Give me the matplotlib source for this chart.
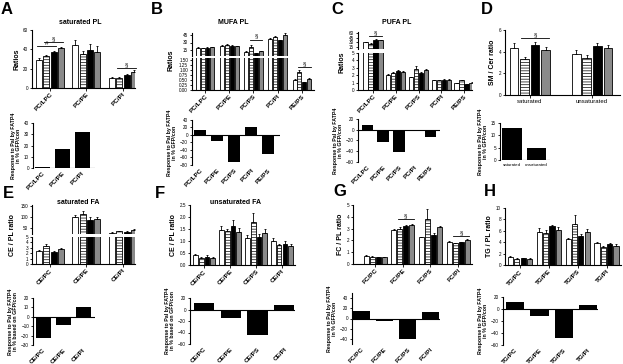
import numpy as np
import matplotlib
matplotlib.use("Agg")
import matplotlib.pyplot as plt

plt.rcParams["font.family"] = ["Liberation Sans", "DejaVu Sans"]
plt.rcParams["hatch.linewidth"] = 0.5

# ---- data ----
A_cats = ["PC/LPC", "PC/PE", "PC/PI"]
A_vals = [[29, 33, 37, 41], [45, 35, 39, 37], [10, 10, 13, 17]]
A_err = [[2.5, 1.5, 1.5, 1.5], [5, 3, 7, 6], [1, 1, 1, 1.5]]
A_resp = [0.5, 17, 32]

B_cats = ["PC/LPC", "PC/PE", "PC/PS", "PC/PI", "PE/PS"]
B_vals = [[19.5, 19, 20, 21], [23.5, 26, 24, 23.5], [11.5, 22, 8.5, 13],
          [38, 41, 35, 46], [0.5, 0.9, 0.38, 0.55]]
B_err = [[1, 1, 0.5, 1], [1, 1.5, 0.5, 0.5], [1, 3, 0.5, 1],
         [1.5, 1.5, 0.5, 2.5], [0.03, 0.1, 0.02, 0.05]]
B_resp = [12, -15, -72, 21, -52]

C_cats = ["PC/LPC", "PC/PE", "PC/PS", "PC/PI", "PE/PS"]
C_vals = [[31, 26, 39, 37], [2.0, 2.3, 2.6, 2.5], [1.7, 2.8, 2.3, 2.7],
          [1.3, 1.3, 1.4, 1.4], [0.9, 1.3, 0.8, 1.0]]
C_err = [[2, 2, 1.5, 1.5], [0.1, 0.1, 0.05, 0.05], [0.1, 0.5, 0.1, 0.1],
         [0.05, 0.05, 0.05, 0.05], [0.05, 0.1, 0.05, 0.05]]
C_resp = [9, -23, -42, -2, -13]

D_cats = ["saturated", "unsaturated"]
D_vals = [[4.3, 3.3, 4.6, 4.2], [3.8, 3.4, 4.5, 4.3]]
D_err = [[0.5, 0.2, 0.25, 0.25], [0.35, 0.3, 0.3, 0.35]]
D_resp = [13, 5]

E_cats = ["CE/PC", "CE/PE", "CE/PI"]
E_vals = [[2.4, 3.4, 2.2, 2.7], [100, 115, 85, 92], [25, 33, 30, 40]]
E_err = [[0.2, 0.25, 0.15, 0.2], [8, 12, 15, 8], [2, 3, 2, 3]]
E_resp = [-23, -9, 10]

F_cats = ["CE/PC", "CE/PE", "CE/PS", "CE/PI"]
F_vals = [[0.42, 0.3, 0.35, 0.3], [1.45, 1.42, 1.62, 1.38],
          [1.12, 1.78, 1.18, 1.32], [1.0, 0.82, 0.88, 0.8]]
F_err = [[0.04, 0.03, 0.05, 0.03], [0.18, 0.08, 0.25, 0.15],
         [0.12, 0.4, 0.12, 0.2], [0.12, 0.06, 0.1, 0.06]]
F_resp = [12, -15, -45, 8]

G_cats = ["FC/PC", "FC/PE", "FC/PS", "FC/PI"]
G_vals = [[0.7, 0.6, 0.6, 0.6], [2.85, 3.0, 3.25, 3.3],
          [2.25, 3.8, 2.45, 3.15], [1.9, 1.75, 1.85, 2.0]]
G_err = [[0.05, 0.05, 0.03, 0.03], [0.1, 0.1, 0.08, 0.08],
         [0.05, 0.85, 0.15, 0.1], [0.05, 0.05, 0.05, 0.08]]
G_resp = [15, -4, -40, 13]

H_cats = ["TG/PC", "TG/PE", "TG/PS", "TG/PI"]
H_vals = [[1.4, 1.1, 1.2, 1.1], [5.8, 5.6, 6.8, 6.1],
          [4.5, 7.2, 5.1, 5.8], [3.8, 3.2, 3.7, 3.4]]
H_err = [[0.1, 0.05, 0.05, 0.05], [0.7, 0.5, 0.2, 0.5],
         [0.2, 1.5, 0.3, 0.5], [0.3, 0.2, 0.15, 0.2]]
H_resp = [11, -11, -48, 7]

# significance marks: (category, first bar, last bar, height, symbol)
A_sig = [(0, 0, 2, 43, "#"), (0, 1, 3, 48, "§"), (2, 1, 3, 21, "§")]
B_sig = [(2, 1, 3, 36, "§"), (4, 1, 3, 1.17, "§")]
C_sig = [(0, 1, 3, 52, "§")]
D_sig = [(0, 1, 3, 5.3, "§")]
G_sig = [(1, 1, 3, 3.8, "§"), (3, 1, 3, 2.35, "§")]

FACE = ["white", "white", "black", "#8a8a8a"]
HATCH = [None, "------", None, None]

W, H = 623, 364
fig = plt.figure(figsize=(W / 100, H / 100), dpi=100)


def px_axes(l, t, r, b):
    return fig.add_axes([l / W, 1 - b / H, (r - l) / W, (b - t) / H])


def ftext(x, y, s, **kw):
    fig.text(x / W, 1 - y / H, s, **kw)


def style(ax):
    ax.spines["top"].set_visible(False)
    ax.spines["right"].set_visible(False)
    ax.spines["left"].set_linewidth(0.8)
    ax.spines["bottom"].set_linewidth(0.8)
    ax.tick_params(labelsize=3.3, width=0.6, length=1.8, pad=1)
    ax.set_facecolor("none")


def grouped(ax, vals, err, step):
    vals = np.array(vals, dtype=float)
    err = np.array(err, dtype=float)
    x = np.arange(len(vals))
    for j in range(4):
        xs = x + (j - 1.5) * step
        ax.bar(xs, vals[:, j], step * 0.82, color=FACE[j], edgecolor="black",
               linewidth=0.6, hatch=HATCH[j], zorder=2)
        ax.errorbar(xs, vals[:, j], yerr=[np.zeros(len(x)), err[:, j]], fmt="none",
                    ecolor="black", elinewidth=0.6, capsize=1.0, capthick=0.6, zorder=3)


def sig(ax, marks, step):
    for c, j0, j1, y, sym in marks:
        x0 = c + (j0 - 1.5) * step
        x1 = c + (j1 - 1.5) * step
        ax.plot([x0 - step * 0.3, x1 + step * 0.3], [y, y], color="black", lw=0.6,
                clip_on=False, zorder=4)
        ax.annotate(sym, (0.5 * (x0 + x1), y), xytext=(0, 0.5), textcoords="offset points",
                    ha="center", va="bottom", fontsize=4.5, annotation_clip=False)


def xcats(ax, cats, rot=True, size=4.6):
    ax.set_xticks(np.arange(len(cats)))
    if rot:
        ax.set_xticklabels(cats, rotation=45, ha="right", rotation_mode="anchor",
                           fontsize=size, fontweight="bold")
    else:
        ax.set_xticklabels(cats, fontsize=size)


def top_panel(rect, cats, vals, err, step, xlim, ylim, yticks, ylabel, marks=None,
              rot=True, ylabelpad=2):
    ax = px_axes(*rect)
    style(ax)
    grouped(ax, vals, err, step)
    ax.set_xlim(*xlim)
    ax.set_ylim(*ylim)
    ax.set_yticks(yticks)
    xcats(ax, cats, rot, 4.6 if rot else 4.3)
    ax.set_ylabel(ylabel, fontsize=5, fontweight="bold", labelpad=ylabelpad)
    if marks:
        sig(ax, marks, step)
    return ax


def broken_panel(up_rect, lo_rect, cats, vals, err, step, xlim, up_lim, up_ticks,
                 lo_lim, lo_ticks, lo_fmt, ylabel, ylabel_xy, up_marks=None, lo_marks=None):
    up = px_axes(*up_rect)
    lo = px_axes(*lo_rect)
    for ax in (up, lo):
        style(ax)
        grouped(ax, vals, err, step)
        ax.set_xlim(*xlim)
    up.set_ylim(*up_lim)
    up.set_yticks(up_ticks)
    up.spines["bottom"].set_visible(False)
    up.set_xticks([])
    lo.set_ylim(*lo_lim)
    lo.set_yticks(lo_ticks)
    lo.set_yticklabels([lo_fmt.format(t) for t in lo_ticks])
    xcats(lo, cats)
    if up_marks:
        sig(up, up_marks, step)
    if lo_marks:
        sig(lo, lo_marks, step)
    ftext(ylabel_xy[0], ylabel_xy[1], ylabel, rotation=90, ha="center", va="center",
          fontsize=5, fontweight="bold")
    return up, lo


def resp_panel(rect, cats, vals, xlim, ylim, yticks, ylabel, width=0.75, rot=True, size=4.6):
    ax = px_axes(*rect)
    style(ax)
    x = np.arange(len(vals))
    ax.bar(x, vals, width, color="black", zorder=2)
    ax.axhline(0, color="black", lw=0.8, zorder=3)
    ax.spines["bottom"].set_visible(False)
    ax.set_xlim(*xlim)
    ax.set_ylim(*ylim)
    ax.set_yticks(yticks)
    xcats(ax, cats, rot, size)
    ax.tick_params(axis="x", length=0, pad=2)
    ax.set_ylabel(ylabel, fontsize=3.8, fontweight="bold", labelpad=2, linespacing=1.1)
    return ax


RESP = "Response to Pal by FATP4\nin % GFP/con"
RESP_B = "Response to Pal by FATP4\nin % based on GFP/con"

# ---- A ----
top_panel((32, 30, 135, 88), A_cats, A_vals, A_err, 0.2, (-0.49, 2.33), (0, 60),
          [0, 20, 40, 60], "Ratios", A_sig)
resp_panel((33, 123, 95, 168), A_cats, A_resp, (-0.45, 2.65), (0, 40), [0, 10, 20, 30, 40], RESP)

# ---- B ----
broken_panel((192, 33, 314, 56), (192, 58, 314, 90), B_cats, B_vals, B_err, 0.2,
             (-0.54, 4.5), (3, 49), [15, 30, 45], (0, 1.6),
             [0, 0.25, 0.5, 0.75, 1.0, 1.25, 1.5], "{:.2f}", "Ratios", (171, 60),
             up_marks=B_sig[:1], lo_marks=B_sig[1:])
resp_panel((192, 120, 280, 165), B_cats, B_resp, (-0.47, 4.7), (-80, 40),
           [-80, -60, -40, -20, 0, 20, 40], RESP)

# ---- C ----
broken_panel((358, 32, 472, 49), (358, 53, 472, 90), C_cats, C_vals, C_err, 0.22,
             (-0.66, 4.35), (8, 65), [15, 30, 45, 60], (0, 5), [0, 1, 2, 3, 4, 5],
             "{:g}", "Ratios", (342, 62), up_marks=C_sig)
resp_panel((358, 119, 440, 162), C_cats, C_resp, (-0.6, 4.6), (-60, 20),
           [-60, -40, -20, 0, 20], RESP)

# ---- D ----
top_panel((505, 30, 620, 95), D_cats, D_vals, D_err, 0.17, (-0.4, 1.45), (0, 6),
          [0, 2, 4, 6], "SM / Cer ratio", D_sig, rot=False)
resp_panel((500, 123, 550, 160), D_cats, D_resp, (-0.5, 1.55), (0, 15), [0, 5, 10, 15],
           RESP, width=0.8, rot=False, size=3.2)

# ---- E ----
broken_panel((32, 205, 135, 234), (32, 237, 135, 264), E_cats, E_vals, E_err, 0.2,
             (-0.49, 2.33), (20, 155), [50, 100, 150], (0, 5), [0, 1, 2, 3, 4, 5],
             "{:g}", "CE / PL ratio", (13, 235))
resp_panel((33, 298, 95, 345), E_cats, E_resp, (-0.5, 2.6), (-30, 20),
           [-30, -20, -10, 0, 10, 20], RESP_B)

# ---- F ----
ax = top_panel((190, 205, 295, 265), F_cats, F_vals, F_err, 0.22, (-0.54, 3.5), (0, 2.5),
               [0, 0.5, 1.0, 1.5, 2.0, 2.5], "CE / PL ratio")
ax.set_yticklabels(["0.0", "0.5", "1.0", "1.5", "2.0", "2.5"])
resp_panel((190, 298, 295, 344), F_cats, F_resp, (-0.52, 3.4), (-60, 20),
           [-60, -40, -20, 0, 20], RESP_B)

# ---- G ----
top_panel((353, 205, 472, 264), G_cats, G_vals, G_err, 0.22, (-0.8, 3.5), (0, 5),
          [0, 1, 2, 3, 4, 5], "FC / PL ratio", G_sig)
resp_panel((352, 293, 440, 344), G_cats, G_resp, (-0.4, 3.4), (-50, 50),
           [-40, -20, 0, 20, 40], RESP)

# ---- H ----
top_panel((505, 208, 621, 265), H_cats, H_vals, H_err, 0.22, (-0.52, 3.5), (0, 10),
          [0, 2, 4, 6, 8, 10], "TG / PL ratio")
resp_panel((503, 297, 598, 345), H_cats, H_resp, (-0.5, 3.4), (-60, 20),
           [-60, -40, -20, 0, 20], RESP)

# panel letters and titles
for lx, ly, s in [(7, 9, "A"), (157, 9, "B"), (337, 9, "C"), (487, 9, "D"),
                  (8, 193, "E"), (160, 193, "F"), (340, 192, "G"), (490, 192, "H")]:
    ftext(lx, ly, s, fontsize=12, fontweight="bold", ha="center", va="center")
for tx, ty, s in [(80, 22, "saturated PL"), (233, 22, "MUFA PL"), (397, 22, "PUFA PL"),
                  (78, 203, "saturated FA"), (235, 203, "unsaturated FA")]:
    ftext(tx, ty, s, fontsize=5, fontweight="bold", ha="center", va="center")

fig.savefig("out.png", dpi=100)
